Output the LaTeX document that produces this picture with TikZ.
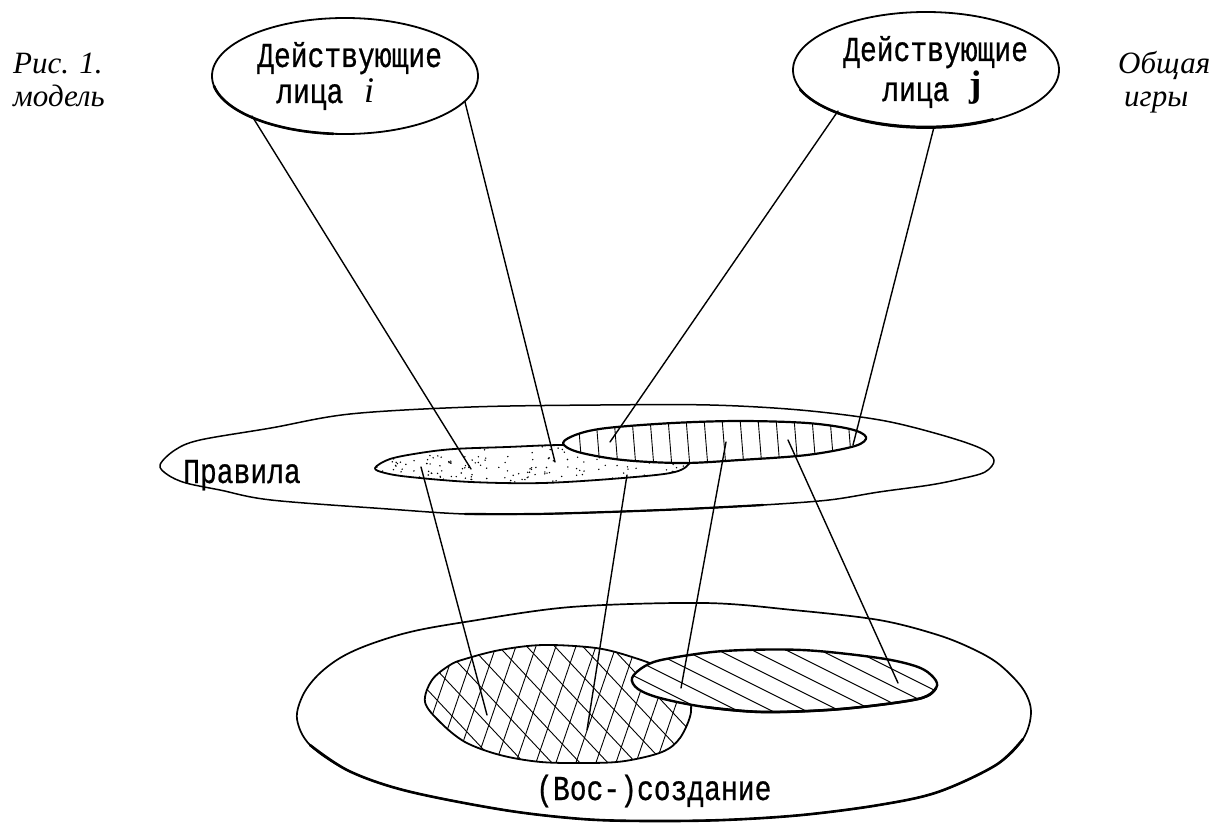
\documentclass[tikz,border=0pt]{standalone}
\usepackage{fontspec}
\usetikzlibrary{shapes.geometric}
\newfontfamily\twfont[FakeStretch=0.8,FakeBold=0.6]{Liberation Mono}
\newfontfamily\capfont{Liberation Serif}
\tikzset{
  conn/.style={line width=1.4pt, line cap=round},
  outline/.style={line width=1.5pt, line join=round},
  heavy/.style={line width=2.6pt, line cap=round},
  hatchline/.style={line width=0.9pt},
  tw/.style={font=\twfont\fontsize{35pt}{38pt}\selectfont, inner sep=0pt},
  capt/.style={font=\capfont\itshape\fontsize{31pt}{34pt}\selectfont, inner sep=0pt, anchor=base west},
  actor/.style={draw, ellipse, line width=1.8pt, inner sep=0pt, minimum width=266pt, minimum height=116pt},
}
\begin{document}
\begin{tikzpicture}[x=1pt,y=-1pt]
\useasboundingbox (0,0) rectangle (1216,824);

% ---------- captions ----------
\node[capt] (c1) at (13,74) {Рис. 1.};
\node[capt] (c2) at (13,107) {модель};
\node[capt] (c3) at (1118,74) {Общая};
\node[capt] (c4) at (1124,107) {игры};

% ---------- rules level ----------
\draw[outline] plot[smooth cycle, tension=0.55] coordinates {
 (160,465) (175,450) (200,440) (271,428) (350,414) (471,407) (600,405) (710,405)
 (800,410) (880,420) (938,434) (980,448) (994,460) (985,472) (960,479) (930,485)
 (879,492) (829,500) (763,505) (686,509) (608,512) (535,514) (465,514) (388,509)
 (271,500) (220,490) (186,483) (168,475)};
\draw[line width=2.2pt, line cap=round] plot[smooth, tension=0.55] coordinates {(465,514) (535,514) (608,512) (686,509) (763,505)};
\node[tw, anchor=base west] (rules) at (183,483) {Правила};

% dotted region
\def\dotshape{plot[smooth cycle, tension=0.55] coordinates {
 (375,468) (390,459) (420,453) (454,449) (507,447) (561,445) (620,446) (675,452)
 (690,461) (675,472) (623,478) (543,483) (471,482) (410,477) (385,473)}}
\begin{scope}
  \clip \dotshape;
  \pgfmathsetseed{4242}
  \foreach \k in {1,...,230}{
    \pgfmathsetmacro{\px}{375+rnd*320}
    \pgfmathsetmacro{\py}{444+rnd*42}
    \fill (\px,\py) circle (0.8pt);
  }
\end{scope}
\draw[line width=1.8pt, line join=round] \dotshape;

% vertically hatched region
\def\vhshape{plot[smooth cycle, tension=0.55] coordinates {
 (563,443) (578,434) (607,428) (673,423) (740,421) (807,423) (850,429) (866,437)
 (855,446) (807,455) (740,460) (683,463) (623,460) (578,452)}}
\fill[white] \vhshape;
\begin{scope}
  \clip \vhshape;
  \foreach \x in {578,596,...,870}{
    \draw[hatchline] (\x,418) -- ({\x+4},468);
  }
\end{scope}
\draw[line width=2.2pt, line join=round] \vhshape;

% ---------- (re)creation level ----------
\draw[line width=1.7pt, line join=round] plot[smooth cycle, tension=0.55] coordinates {
 (297,719) (303,695) (318,675) (340,658) (368,645) (410,632) (465,622) (571,607)
 (704,603) (793,610) (879,620) (938,635) (975,650) (1000,665) (1023,689) (1031,712)
 (1023,739) (996,765) (938,792) (879,805) (802,815) (724,820) (647,821) (582,819)
 (504,810) (407,791) (349,771) (310,745)};
\draw[heavy] plot[smooth, tension=0.55] coordinates {
 (310,745) (349,771) (407,791) (504,810) (582,819) (647,821) (724,820) (802,815)
 (879,805) (938,792) (996,765) (1023,739)};
\node[tw, anchor=base west] (recr) at (536,800) {(Вос-)создание};

% cross-hatched region
\def\xhshape{plot[smooth cycle, tension=0.55] coordinates {
 (425,702) (432,680) (450,665) (465,659) (500,650) (543,645) (596,648) (632,657)
 (665,670) (686,690) (691,712) (680,738) (662,752) (625,761) (590,763) (541,762)
 (500,755) (465,742) (440,722)}}
\fill[white] \xhshape;
\begin{scope}
  \clip \xhshape;
  \foreach \x in {250,278,...,720}{
    \draw[hatchline] (\x,620) -- ({\x+150},780);
  }
  \foreach \x in {370,390,...,720}{
    \draw[hatchline] (\x,780) -- ({\x+55},620);
  }
\end{scope}
\draw[line width=1.8pt, line join=round] \xhshape;

% diagonally hatched region
\def\dhshape{plot[smooth cycle, tension=0.55] coordinates {
 (632,678) (645,666) (666,659) (724,651) (802,650) (879,658) (918,667) (934,678)
 (936,688) (918,699) (841,709) (763,712) (705,707) (660,698) (638,689)}}
\fill[white] \dhshape;
\begin{scope}
  \clip \dhshape;
  \foreach \x in {420,454,...,960}{
    \draw[hatchline] (\x,620) -- ({\x+200},720);
  }
\end{scope}
\draw[line width=2.4pt, line join=round] \dhshape;
\draw[heavy] plot[smooth, tension=0.55] coordinates {(705,707) (763,712) (841,709) (918,699) (936,688)};

% ---------- actors ----------
\node[actor] (ei) at (345,76) {};
\draw[heavy] plot[domain=95:170, samples=30, variable=\t] ({345+133*cos(\t)}, {76+58*sin(\t)});
\node[tw, anchor=base west] (ti1) at (257,67) {Действующие};
\node[tw, anchor=base west] (ti2) at (276,103) {лица};
\node[font=\capfont\itshape\fontsize{36pt}{38pt}\selectfont, inner sep=0pt, anchor=base west] (ti3) at (364,103) {i};

\node[actor] (ej) at (926,70) {};
\draw[heavy] plot[domain=60:160, samples=30, variable=\t] ({926+134*cos(\t)}, {70+57*sin(\t)});
\node[tw, anchor=base west] (tj1) at (843,61) {Действующие};
\node[tw, anchor=base west] (tj2) at (882,101) {лица};
\node[font=\capfont\bfseries\fontsize{37pt}{40pt}\selectfont, inner sep=0pt, anchor=south west] (tj3) at (969,105) {j};

% ---------- connector end points ----------
\coordinate (ia) at (252,116);
\coordinate (ib) at (465,102);
\coordinate (da) at (471,469);
\coordinate (db) at (555,462);
\coordinate (ja) at (838,111);
\coordinate (jb) at (934,127);
\coordinate (ha) at (610,442);
\coordinate (hb) at (853,445);
\coordinate (dc) at (421,467);
\coordinate (dd) at (627,475);
\coordinate (hc) at (726,442);
\coordinate (hd) at (788,440);
\coordinate (xa) at (487,715);
\coordinate (xb) at (587,730);
\coordinate (ra) at (681,688);
\coordinate (rb) at (898,683);

% ---------- connectors ----------
\draw[conn] (ia) -- (da);
\draw[conn] (ib) -- (db);
\draw[conn] (ja) -- (ha);
\draw[conn] (jb) -- (hb);
\draw[conn] (dc) -- (xa);
\draw[conn] (dd) -- (xb);
\draw[conn] (hc) -- (ra);
\draw[conn] (hd) -- (rb);
\end{tikzpicture}
\end{document}
